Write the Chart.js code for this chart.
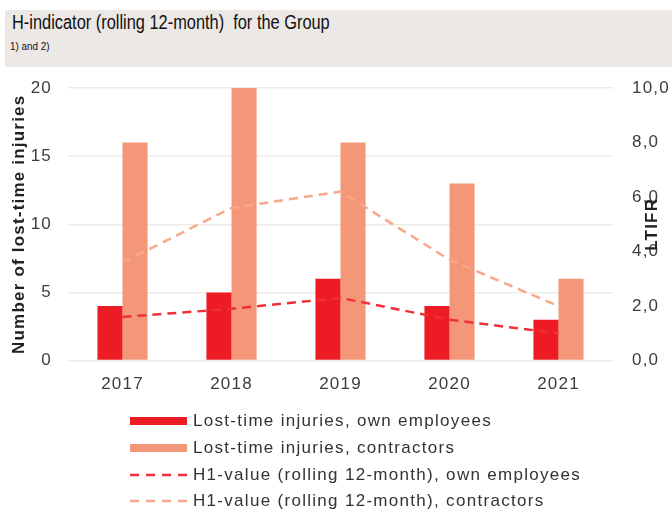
<!DOCTYPE html>
<html>
<head>
<meta charset="utf-8">
<script src="https://cdn.jsdelivr.net/npm/chart.js@4.4.1/dist/chart.umd.min.js"></script>
<style>
body { margin:0; width:672px; height:510px; background:#fff; position:relative; overflow:hidden; font-family:"Liberation Sans", Arial, sans-serif; }
#head { position:absolute; left:5px; top:10px; width:667px; height:57px; background:#ece8e5; }
#title { position:absolute; left:6.5px; top:2.5px; font-size:19.5px; line-height:1; color:#111; white-space:nowrap; transform:scaleX(0.84); transform-origin:left top; }
#sub { position:absolute; left:5px; top:30.5px; font-size:11px; line-height:1; color:#111; white-space:nowrap; transform:scaleX(0.9); transform-origin:left top; }
#chart { position:absolute; left:0; top:0; }
#legend { position:absolute; left:130px; top:408px; }
.row { height:26.7px; display:flex; align-items:center; font-size:17px; color:#333; letter-spacing:1.3px; white-space:nowrap; }
.row svg { margin-right:6px; flex:none; }
</style>
</head>
<body>
<div id="head">
  <div id="title">H-indicator (rolling 12-month)&nbsp; for the Group</div>
  <div id="sub">1) and 2)</div>
</div>
<canvas id="chart" width="672" height="510"></canvas>
<div id="legend"></div>
<script>
// values
var years = ['2017', '2018', '2019', '2020', '2021'];
var ltiOwn = [4, 5, 6, 4, 3];
var ltiContractors = [16, 20, 16, 13, 6];
var h1Own = [1.6, 1.9, 2.3, 1.5, 1.0];
var h1Contractors = [3.6, 5.6, 6.2, 3.7, 2.0];
var leftTicks = [0, 5, 10, 15, 20];
var rightTicks = [0, 2, 4, 6, 8, 10];
var seriesNames = [
  'Lost-time injuries, own employees',
  'Lost-time injuries, contractors',
  'H1-value (rolling 12-month), own employees',
  'H1-value (rolling 12-month), contractors'
];
var leftTitle = 'Number of lost-time injuries';
var rightTitle = 'LTIFR';

var red = 'rgb(237,28,36)';
var salmon = 'rgb(244,151,121)';
var redLine = 'rgb(240,48,54)';
var salmonLine = 'rgb(247,168,138)';
var tickColor = '#3c3c3c';
var gridColor = 'rgb(241,233,230)';
var font = '"Liberation Sans", Arial, sans-serif';

// canvas text in the picture is slightly tracked out
var spacing = {
  id: 'spacing',
  beforeUpdate: function(c) { c.ctx.letterSpacing = '1.2px'; },
  beforeDraw: function(c) { c.ctx.letterSpacing = '1.2px'; }
};

// right axis title sits over the tick labels, reading upwards
var ltifrTitle = {
  id: 'ltifrTitle',
  afterDraw: function(c) {
    var s = c.scales.y1, ctx = c.ctx;
    ctx.save();
    ctx.translate(c.chartArea.right + 39, s.getPixelForValue(5));
    ctx.rotate(-Math.PI / 2);
    ctx.font = 'bold 17px ' + font;
    ctx.fillStyle = '#222';
    ctx.textAlign = 'center';
    ctx.textBaseline = 'middle';
    ctx.fillText(rightTitle, 0, 0);
    ctx.restore();
  }
};

var ctx = document.getElementById('chart').getContext('2d');
var chart = new Chart(ctx, {
  type: 'bar',
  data: {
    labels: years,
    datasets: [
      { label: seriesNames[0], data: ltiOwn, backgroundColor: red, yAxisID: 'y', order: 1,
        categoryPercentage: 0.46, barPercentage: 1 },
      { label: seriesNames[1], data: ltiContractors, backgroundColor: salmon, yAxisID: 'y', order: 1,
        categoryPercentage: 0.46, barPercentage: 1 },
      { type: 'line', label: seriesNames[2], data: h1Own, yAxisID: 'y1', order: 0,
        borderColor: redLine, borderWidth: 2.5, borderDash: [9, 6], pointRadius: 0, tension: 0, fill: false },
      { type: 'line', label: seriesNames[3], data: h1Contractors, yAxisID: 'y1', order: 0,
        borderColor: salmonLine, borderWidth: 2.5, borderDash: [9, 6], pointRadius: 0, tension: 0, fill: false }
    ]
  },
  options: {
    responsive: false,
    animation: false,
    layout: { padding: { top: 88, left: 2, right: 0, bottom: 115 } },
    plugins: { legend: { display: false }, tooltip: { enabled: false } },
    scales: {
      x: {
        grid: { display: false, drawTicks: false },
        border: { display: false },
        ticks: { color: tickColor, font: { family: font, size: 17 }, padding: 14 },
        afterFit: function(s) { s.height = 34.4; }
      },
      y: {
        position: 'left',
        min: 0, max: 20,
        afterBuildTicks: function(s) { s.ticks = leftTicks.map(function(v) { return { value: v }; }); },
        grid: { color: gridColor, drawTicks: false, lineWidth: 1.5 },
        border: { display: false },
        ticks: { color: tickColor, font: { family: font, size: 17 }, padding: 16 },
        title: { display: true, text: leftTitle, color: '#222',
                 font: { family: font, size: 17, weight: 'bold' }, padding: { top: 7.5, bottom: 0 } },
        afterFit: function(s) { s.width = 66; }
      },
      y1: {
        position: 'right',
        min: 0, max: 10,
        afterBuildTicks: function(s) { s.ticks = rightTicks.map(function(v) { return { value: v }; }); },
        grid: { display: false, drawTicks: false },
        border: { display: false },
        ticks: { color: tickColor, font: { family: font, size: 17 }, padding: 19,
                 callback: function(v) { return v.toFixed(1).replace('.', ','); } },
        afterFit: function(s) { s.width = 59; }
      }
    }
  },
  plugins: [spacing, ltifrTitle]
});

// legend: one entry per row, bar swatches and dashed line swatches
var legend = document.getElementById('legend');
chart.data.datasets.forEach(function(ds, i) {
  var row = document.createElement('div');
  row.className = 'row';
  var sw;
  if (ds.type === 'line') {
    sw = '<svg width="57" height="10"><line x1="0" y1="5" x2="57" y2="5" stroke="' + ds.borderColor +
         '" stroke-width="2.5" stroke-dasharray="9,7"/></svg>';
  } else {
    sw = '<svg width="57" height="10"><rect x="0" y="1" width="57" height="8" fill="' + ds.backgroundColor + '"/></svg>';
  }
  row.innerHTML = sw + '<span>' + ds.label + '</span>';
  legend.appendChild(row);
});
</script>
</body>
</html>
